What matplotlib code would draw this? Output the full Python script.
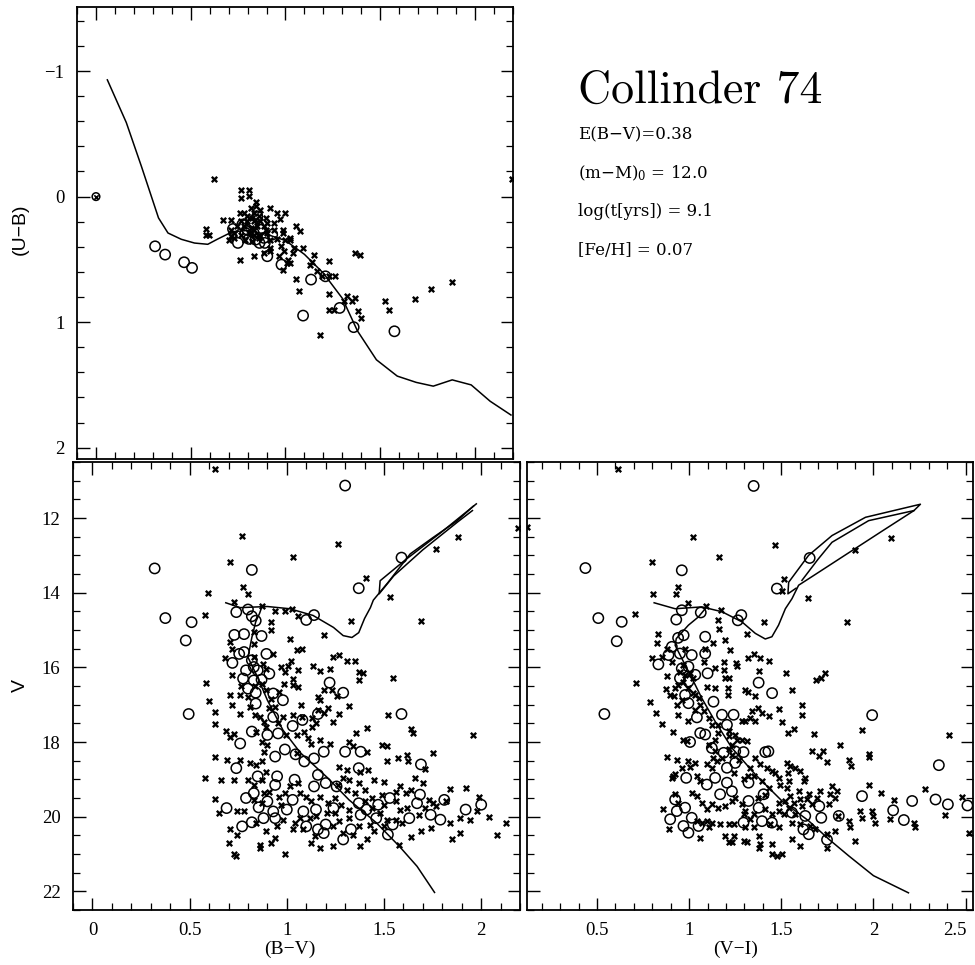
import matplotlib
matplotlib.use("Agg")
import matplotlib.pyplot as plt
from matplotlib.ticker import MultipleLocator, FixedLocator, FixedFormatter, NullFormatter
from matplotlib.transforms import ScaledTranslation
import numpy as np

plt.rcParams['font.family'] = ['Liberation Serif', 'DejaVu Serif']
plt.rcParams['mathtext.fontset'] = 'dejavuserif'

# ---------------- data: (U-B) vs (B-V) ----------------
iso_bv_ub = [0.06, 0.16, 0.24, 0.33, 0.38, 0.45, 0.52, 0.59, 0.64, 0.72, 0.80, 0.90, 1.00,
             1.10, 1.20, 1.30, 1.38, 1.48, 1.59, 1.69, 1.78, 1.88, 1.98, 2.08, 2.19]
iso_ub = [-0.93, -0.59, -0.24, 0.17, 0.29, 0.34, 0.37, 0.38, 0.34, 0.28, 0.27, 0.30, 0.35,
          0.46, 0.61, 0.81, 1.07, 1.30, 1.43, 1.48, 1.51, 1.46, 1.50, 1.63, 1.74]

circ_bv_top = [0.312, 0.365, 0.465, 0.507, 0.723, 0.749, 0.807, 0.789, 0.833, 0.868, 0.886,
               0.863, 0.891, 0.93, 0.904, 0.979, 1.093, 1.135, 1.211, 1.286, 1.36, 1.575,
               0.772, 0.851, 0.825, 0.798, 0.842]
circ_ub_top = [0.396, 0.462, 0.523, 0.568, 0.258, 0.369, 0.337, 0.29, 0.29, 0.263, 0.329,
               0.369, 0.369, 0.303, 0.475, 0.542, 0.948, 0.661, 0.635, 0.887, 1.04, 1.073,
               0.223, 0.157, 0.21, 0.263, 0.343]

cross_bv_top = [0.623, 0.763, 0.763, 0.807, 0.807, 0.842, 0.918, 0.956, 1.0, 0.97, 0.939, 0.988,
                0.988, 1.058, 1.079, 1.023, 1.0, 1.044, 1.093, 1.04, 1.012, 1.026, 1.053, 1.07,
                1.14, 1.153, 1.132, 1.228, 1.167, 1.193, 1.228, 1.26, 1.228, 1.232, 1.254, 1.307,
                1.325, 1.351, 1.368, 1.381, 1.398, 1.184, 1.365, 1.392, 1.526, 1.547, 1.684,
                1.767, 1.877, 2.196, 0.579, 0.579, 0.596, 0.672, 0.711, 0.76, 0.711, 0.702, 0.76,
                0.833, 0.886, 0.918, 0.921, 0.968, 0.974, 0.991, 0.988, 1.009, 1.026,
                0.781, 0.816, 0.842, 0.868, 0.833, 0.798, 0.825, 0.86, 0.895, 0.763, 0.798, 0.833,
                0.868, 0.904, 0.746, 0.781, 0.816, 0.851, 0.886, 0.728, 0.763, 0.833, 0.868, 0.904,
                0.789, 0.825, 0.86, 0.895, 0.939, 0.921, 0.956, 0.728, 0.711, 0.833, 0.807]
cross_ub_top = [-0.141, -0.05, 0.011, -0.056, -0.008, 0.045, 0.09, 0.13, 0.13, 0.178, 0.21, 0.263,
                0.29, 0.231, 0.276, 0.329, 0.343, 0.409, 0.409, 0.449, 0.502, 0.529, 0.656, 0.754,
                0.523, 0.462, 0.542, 0.515, 0.595, 0.635, 0.635, 0.635, 0.773, 0.9, 0.9, 0.834,
                0.789, 0.834, 0.807, 0.914, 0.967, 1.10, 0.449, 0.462, 0.829, 0.906, 0.813,
                0.733, 0.683, -0.141, 0.258, 0.303, 0.303, 0.183, 0.183, 0.13, 0.263, 0.343, 0.502,
                0.47, 0.449, 0.409, 0.436, 0.475, 0.396, 0.436, 0.582, 0.529, 0.343,
                0.13, 0.09, 0.077, 0.104, 0.13, 0.157, 0.17, 0.157, 0.17, 0.197, 0.197, 0.197,
                0.197, 0.21, 0.236, 0.236, 0.25, 0.236, 0.236, 0.29, 0.303, 0.303, 0.31, 0.29,
                0.343, 0.356, 0.329, 0.263, 0.263, 0.343, 0.337, 0.329, 0.31, 0.263, 0.29]

blend_bv_top = [0.0]
blend_ub_top = [0.0]

# ---------------- data: V vs (B-V) ----------------
ms_bv = [1.76, 1.67, 1.58, 1.46, 1.32, 1.21, 1.07, 0.98, 0.90, 0.85, 0.80, 0.82, 0.84, 0.86, 0.87]
ms_v_bv = [22.03, 21.33, 20.8, 20.16, 19.55, 18.96, 18.29, 17.68, 16.88, 16.27, 15.73, 15.2,
           14.78, 14.55, 14.40]
rgb_bv = [0.686, 0.76, 0.90, 1.015, 1.135, 1.24, 1.29, 1.335, 1.37, 1.40, 1.43, 1.445, 1.52,
          1.635, 1.75, 1.875, 1.96]
rgb_v_bv = [14.27, 14.40, 14.37, 14.43, 14.61, 14.93, 15.15, 15.2, 15.07, 14.69, 14.4, 14.2,
            13.73, 12.96, 12.53, 12.08, 11.68]
loop_bv = [1.975, 1.79, 1.61, 1.48, 1.475, 1.55, 1.70, 1.88, 1.955]
loop_v_bv = [11.62, 12.4, 13.12, 13.68, 14.03, 13.55, 12.85, 12.1, 11.8]

circ_bv = [1.30, 0.32, 0.82, 1.59, 1.37, 0.375, 0.51, 0.74, 0.80, 0.82, 0.84, 1.10, 1.14, 0.48,
           0.495, 0.73, 0.78, 0.87, 0.895, 0.755, 0.72, 0.78, 0.82, 0.79, 0.83, 0.85, 0.775,
           0.83, 0.87, 0.91, 0.80, 0.84, 0.84, 0.93, 0.98, 1.22, 1.29, 1.59, 0.93, 0.82, 0.76,
           0.90, 0.955, 1.16, 1.03, 1.08, 0.99, 1.045, 0.94, 1.30, 1.38, 1.19, 1.09, 1.14, 1.37,
           1.69, 0.74, 0.85, 0.83, 0.79, 0.95, 0.94, 1.04, 1.16, 1.20, 1.14, 1.256, 0.69, 0.77,
           0.855, 0.82, 0.88, 0.90, 0.93, 0.94, 1.03, 1.00, 1.085, 1.10, 1.15, 1.16, 1.20, 1.19,
           1.24, 1.29, 1.33, 1.37, 1.38, 1.41, 1.46, 1.47, 1.53, 1.52, 1.545, 1.63, 1.67, 1.685,
           1.74, 1.79, 1.81, 1.92, 2.00]
circ_v_bv = [11.13, 13.35, 13.39, 13.06, 13.88, 14.68, 14.79, 14.52, 14.45, 14.63, 14.75, 14.73,
             14.60, 15.28, 17.25, 15.13, 15.11, 15.16, 15.64, 15.64, 15.88, 15.59, 15.81, 16.08,
             15.99, 16.08, 16.30, 16.35, 16.33, 16.17, 16.57, 16.68, 16.97, 16.70, 16.88, 16.41,
             16.68, 17.25, 17.33, 17.72, 18.04, 17.81, 17.77, 17.25, 17.57, 17.41, 18.2, 18.33,
             18.39, 18.26, 18.26, 18.26, 18.52, 18.44, 18.70, 18.6, 18.70, 18.92, 19.37, 19.50,
             18.92, 19.15, 19.01, 18.88, 19.1, 19.19, 19.19, 19.77, 20.26, 19.75, 20.15, 20.04,
             19.59, 19.86, 20.04, 19.55, 19.81, 19.86, 20.26, 19.81, 20.34, 20.21, 20.44, 19.77,
             20.61, 20.34, 19.64, 19.95, 19.81, 20.04, 19.68, 19.50, 20.48, 20.21, 20.04, 19.64,
             19.41, 19.95, 20.08, 19.55, 19.81, 19.68]

cross_bv = [0.63, 0.77, 1.265, 1.03, 0.71, 1.77, 1.88, 2.19, 1.405, 0.775, 0.80, 0.595, 0.58,
            0.73, 0.87, 0.94, 0.99, 1.025, 1.055, 1.33, 1.53, 1.69, 1.545, 1.32, 1.64, 1.65, 1.96,
            1.75, 1.19, 1.015, 1.05, 1.08, 0.92, 0.71, 0.72, 0.83, 0.92, 0.93, 0.83, 0.68, 0.585,
            0.60, 0.63, 0.63, 0.685, 0.71, 0.73, 0.72, 0.766, 0.72, 0.97, 1.005, 1.02, 1.03, 1.06,
            1.03, 1.055, 0.99, 0.985, 0.96, 0.92, 0.94, 1.135, 1.17, 1.19, 1.16, 1.17, 1.22, 1.24,
            1.27, 1.31, 1.35, 1.37, 1.39, 1.37, 1.23, 1.26, 1.21, 1.19, 1.24, 1.075, 1.03, 1.08,
            1.13, 1.52, 1.355, 1.41, 1.32, 1.22, 1.17, 1.11, 1.125, 0.87, 0.90, 0.88, 1.05, 1.34,
            1.41, 1.49, 1.515, 1.515, 1.57, 1.62, 1.625, 1.71, 1.84, 1.66, 1.70, 1.64, 1.58, 1.56,
            1.615, 1.50, 1.45, 1.42, 1.375, 1.31, 1.27, 1.29, 1.32, 1.37, 1.265, 1.31, 1.35, 1.40,
            1.44, 1.49, 1.40, 1.44, 1.50, 1.56, 1.58, 1.62, 1.48, 1.515, 1.56, 1.59, 1.68, 1.71,
            1.73, 1.77, 1.75, 1.82, 1.84, 1.89, 1.92, 1.89, 1.94, 1.99, 1.98, 2.04, 2.08, 2.13,
            1.85, 1.74, 1.69, 1.64, 1.575, 1.41, 1.375, 1.34, 1.29, 1.24, 1.17, 1.125, 1.145,
            1.085, 1.03, 1.04, 0.99, 0.94, 0.92, 0.86, 0.86, 0.74, 0.73, 0.745, 0.71, 0.70, 0.745,
            0.78, 0.73, 0.66, 0.58, 0.63, 0.65, 0.63, 0.69, 0.76, 0.81, 0.84, 0.87, 0.895, 0.80,
            0.83, 0.87, 0.91, 0.88, 0.83, 0.87, 0.96, 0.97, 0.99, 1.015, 1.06, 1.07, 1.10, 1.125,
            1.17, 1.21, 1.25, 1.28, 1.32, 1.25, 1.205, 1.15, 1.12, 1.07, 0.98, 0.95, 0.84, 0.895,
            1.24, 1.27, 1.32, 1.37, 1.43, 1.45, 1.50, 1.05, 1.09, 1.13, 1.15, 1.16, 1.27, 0.86,
            0.88, 0.895, 0.84, 0.71, 0.83, 0.875, 0.895, 0.87, 0.895, 0.76, 0.80, 0.835, 0.81,
            0.76, 0.835, 0.91, 0.955, 0.98, 0.995]
cross_v_bv = [10.68, 12.49, 12.70, 13.04, 13.17, 12.84, 12.52, 12.28, 13.6, 13.84, 14.04, 14.0,
              14.59, 14.24, 14.35, 14.5, 14.5, 14.45, 14.62, 14.75, 14.12, 14.75, 16.28, 17.03,
              17.65, 17.77, 17.8, 18.3, 15.13, 15.25, 15.53, 15.52, 14.79, 15.32, 15.5, 15.06,
              15.01, 15.64, 15.37, 15.74, 16.41, 16.9, 17.19, 17.52, 17.71, 16.73, 17.79, 17.0,
              16.49, 16.21, 15.99, 15.97, 15.84, 16.3, 16.08, 16.48, 16.52, 16.12, 16.44, 16.66,
              16.84, 17.06, 15.97, 16.1, 16.61, 16.79, 16.88, 16.04, 15.73, 15.66, 15.84, 15.82,
              16.12, 16.14, 16.35, 16.61, 16.76, 17.1, 17.23, 17.46, 17.01, 17.28, 17.32, 17.37,
              17.28, 17.77, 17.63, 17.99, 18.04, 17.95, 17.88, 18.04, 17.99, 18.08, 18.26, 18.30,
              18.12, 18.26, 18.08, 18.12, 18.52, 18.44, 18.35, 18.52, 18.72, 19.25, 18.97, 19.1,
              19.28, 19.19, 19.34, 19.37, 19.06, 19.01, 18.75, 18.79, 18.75, 18.66, 18.97, 19.01,
              19.1, 19.15, 19.28, 19.37, 19.28, 19.5, 19.41, 19.59, 19.77, 19.68, 19.59, 19.81,
              19.77, 19.9, 20.08, 20.08, 20.17, 19.95, 19.77, 19.55, 19.72, 19.64, 19.59, 20.17,
              20.04, 19.24, 20.44, 20.08, 19.46, 19.86, 20.0, 20.48, 20.17, 20.61, 20.30, 20.39,
              20.54, 20.75, 20.61, 20.79, 20.48, 20.44, 20.79, 20.84, 20.70, 20.52, 20.34, 20.34,
              20.17, 21.0, 20.57, 20.70, 20.75, 20.84, 21.06, 21.0, 20.48, 20.34, 20.70, 19.86,
              19.86, 19.01, 19.01, 18.97, 19.53, 19.9, 18.39, 18.48, 18.48, 18.57, 18.61, 18.52,
              18.79, 19.01, 19.15, 19.01, 19.33, 19.37, 19.55, 19.64, 19.46, 19.68, 19.37, 19.19,
              19.1, 19.37, 19.46, 19.59, 19.46, 19.64, 19.50, 19.68, 19.81, 19.90, 19.9, 19.99,
              20.04, 20.04, 20.08, 20.26, 20.17, 20.39, 20.26, 20.12, 20.04, 20.26, 20.21, 20.39,
              20.26, 17.81, 17.72, 17.59, 17.5, 17.15, 17.24, 17.32, 17.46, 17.59, 17.72, 17.86,
              15.73, 15.9, 16.04, 16.44, 16.61, 16.75, 16.79, 16.5, 17.06, 17.24, 17.28, 17.1,
              17.48, 17.33, 17.81]

# ---------------- data: V vs (V-I) ----------------
ms_vi = [2.19, 2.00, 1.866, 1.757, 1.648, 1.504, 1.359, 1.232, 1.141, 1.069, 1.015, 0.96, 0.924,
         0.93, 0.996, 1.05, 1.087]
ms_v_vi = [22.04, 21.58, 21.05, 20.6, 20.11, 19.58, 18.87, 18.16, 17.45, 16.83, 16.29, 15.76,
           15.41, 15.23, 14.87, 14.65, 14.43]
rgb_vi = [0.81, 0.924, 1.069, 1.178, 1.286, 1.359, 1.413, 1.449, 1.485, 1.522, 1.558, 1.594,
          1.685, 1.866, 2.047, 2.22]
rgb_v_vi = [14.27, 14.43, 14.38, 14.51, 14.78, 15.09, 15.24, 15.18, 14.87, 14.43, 14.16, 13.8,
            13.51, 12.93, 12.35, 11.8]
loop_vi = [1.612, 1.70, 1.775, 1.974, 2.22, 2.255, 1.957, 1.775, 1.648, 1.54, 1.536, 1.58]
loop_v_vi = [13.67, 13.1, 12.65, 12.07, 11.8, 11.63, 11.98, 12.47, 13.0, 13.72, 14.03, 13.88]

circ_vi = [1.35, 0.437, 0.96, 1.654, 1.476, 0.507, 0.634, 0.607, 0.54, 0.96, 0.93, 1.063, 1.264,
           1.283, 1.087, 0.97, 0.94, 0.906, 0.833, 0.888, 0.95, 1.014, 1.087, 0.96, 0.996, 0.95,
           0.996, 1.033, 1.10, 0.978, 0.996, 1.132, 1.377, 1.45, 1.042, 1.178, 1.241, 1.205,
           1.06, 1.087, 1.005, 1.123, 1.187, 1.25, 1.295, 1.43, 1.205, 1.25, 1.141, 1.205, 0.984,
           1.096, 1.168, 1.232, 1.322, 1.404, 1.322, 1.377, 0.924, 0.978, 0.933, 0.897, 0.969,
           0.996, 1.051, 1.014, 1.295, 1.395, 1.449, 1.558, 1.63, 1.649, 1.62, 1.706, 1.717,
           1.748, 1.812, 1.938, 1.993, 2.107, 2.165, 2.21, 2.337, 2.355, 2.404, 2.51, 1.413]
circ_v_vi = [11.14, 13.34, 13.40, 13.07, 13.89, 14.68, 14.78, 15.30, 17.25, 14.47, 14.72, 14.53,
             14.74, 14.6, 15.18, 15.14, 15.21, 15.45, 15.92, 15.67, 15.63, 15.67, 15.63, 16.03,
             15.98, 16.29, 16.38, 16.2, 16.16, 16.74, 16.96, 16.92, 16.41, 16.69, 17.34, 17.27,
             17.27, 17.54, 17.76, 17.8, 18.0, 18.16, 18.29, 18.25, 18.27, 18.25, 18.69, 18.56,
             18.96, 19.09, 18.96, 19.14, 19.4, 19.32, 19.09, 19.4, 19.58, 19.76, 19.54, 19.76,
             19.85, 20.07, 20.25, 20.43, 20.25, 20.03, 20.16, 20.12, 20.16, 19.89, 19.98, 20.47,
             20.34, 19.72, 20.03, 20.62, 19.98, 19.45, 17.28, 19.83, 20.09, 19.58, 19.54, 18.62,
             19.67, 19.7, 18.27]

cross_vi = [0.612, 0.118, 1.02, 1.467, 1.163, 2.098, 1.90, 0.797, 0.937, 0.928, 0.803, 0.706,
            0.993, 1.092, 1.174, 1.156, 1.16, 1.404, 1.513, 1.504, 1.645, 1.857, 1.313, 1.196,
            1.223, 1.132, 0.833, 0.824, 0.80, 0.879, 0.71, 0.788, 0.82, 0.851, 0.915, 0.879,
            0.933, 0.915, 0.86, 0.888, 0.942, 0.933, 0.92, 0.873, 0.897, 0.924, 0.996, 0.987,
            0.969, 1.033, 1.06, 1.096, 1.141, 1.138, 1.187, 1.187, 1.214, 1.192, 1.21, 1.21,
            1.255, 1.259, 1.322, 1.35, 1.386, 1.435, 1.377, 1.304, 1.322, 1.359, 1.373, 1.341,
            1.395, 1.431, 1.331, 1.304, 1.286, 1.359, 1.49, 1.504, 1.534, 1.567, 1.558, 1.527,
            1.612, 1.612, 1.676, 1.69, 1.717, 1.735, 1.667, 1.703, 1.726, 1.748, 1.817, 1.87,
            1.88, 1.938, 1.978, 1.978, 2.41, 2.042, 2.11, 1.978, 1.929, 1.99, 2.0, 2.01, 1.938,
            2.089, 2.22, 2.228, 2.279, 2.391, 2.478, 2.518, 1.902, 1.866, 1.875, 1.793, 1.808,
            1.757, 1.775, 1.80, 1.793, 1.766, 1.712, 1.694, 1.667, 1.649, 1.621, 1.63, 1.603,
            1.576, 1.549, 1.531, 1.536, 1.54, 1.495, 1.486, 1.467, 1.449, 1.42, 1.531, 1.549,
            1.594, 1.603, 1.567, 1.522, 1.486, 1.486, 1.513, 1.449, 1.413, 1.35, 1.304, 1.286,
            1.25, 1.232, 1.196, 1.159, 1.123, 1.096, 1.069, 1.042, 1.014, 0.924, 0.942, 0.906,
            0.924, 0.96, 0.996, 1.033, 1.042, 1.06, 1.096, 1.123, 1.15, 1.132, 1.178, 1.232,
            1.25, 1.259, 1.286, 1.313, 1.359, 1.386, 1.331, 1.322, 1.295, 1.241, 1.042, 1.069,
            1.096, 1.105, 1.06, 1.123, 1.168, 1.214, 1.241, 1.196, 1.214, 1.232, 1.241, 1.295,
            1.304, 1.295, 1.313, 1.331, 1.35, 1.377, 1.386, 1.377, 1.44, 1.449, 1.449, 1.476,
            1.504, 1.49, 1.558, 1.603, 1.603, 1.558, 1.658, 1.685, 1.748, 1.748, 1.54, 1.576,
            1.612, 1.64, 1.373, 1.409, 1.435, 1.395, 1.35, 1.268, 1.232, 1.214, 1.214, 1.159,
            1.141, 1.105, 1.005, 0.969, 0.951, 0.978, 1.005, 1.023, 0.969, 0.942, 0.996, 1.023,
            1.051, 1.078, 1.033, 1.105, 1.123, 1.159, 1.214, 1.141, 0.96, 0.978, 0.879, 0.851,
            0.906, 1.087, 1.078]
cross_v_vi = [10.68, 12.23, 12.5, 12.72, 13.05, 12.53, 12.85, 13.18, 13.85, 14.04, 14.03, 14.58,
              14.27, 14.36, 14.46, 14.74, 14.96, 14.78, 13.63, 13.96, 14.14, 14.78, 15.11, 15.27,
              15.54, 15.36, 15.11, 15.34, 15.74, 16.23, 16.43, 16.92, 17.21, 17.52, 17.74, 18.40,
              18.49, 18.92, 19.79, 20.34, 17.27, 17.0, 16.76, 16.58, 16.74, 16.54, 17.45, 17.96,
              17.94, 16.74, 17.0, 16.52, 16.54, 16.03, 15.85, 16.07, 16.29, 16.28, 16.54, 16.74,
              15.89, 15.96, 15.76, 15.65, 15.76, 15.82, 16.1, 16.6, 16.65, 16.78, 17.09, 17.18,
              17.23, 17.29, 17.36, 17.45, 17.43, 17.45, 17.11, 17.47, 17.76, 17.65, 16.6, 16.16,
              17.0, 17.27, 17.78, 16.34, 16.29, 16.16, 18.25, 18.38, 18.25, 18.53, 18.07, 18.47,
              18.65, 17.67, 18.32, 18.41, 17.8, 19.36, 19.56, 19.14, 19.85, 19.85, 19.98, 20.16,
              20.04, 20.05, 20.16, 20.29, 19.27, 19.96, 19.47, 20.43, 20.65, 20.12, 20.29, 20.38,
              19.98, 19.67, 19.18, 19.32, 19.5, 19.4, 19.32, 19.5, 19.67, 19.4, 19.05, 18.96,
              18.78, 18.69, 18.65, 18.56, 18.83, 19.05, 19.14, 18.96, 18.83, 18.78, 18.69, 19.23,
              19.45, 19.32, 19.54, 19.63, 19.58, 19.63, 19.85, 19.94, 19.94, 19.8, 19.94, 19.85,
              19.67, 19.49, 19.58, 19.71, 19.76, 19.67, 19.8, 19.63, 19.45, 19.36, 19.4, 19.63,
              18.96, 18.87, 18.69, 18.52, 18.56, 18.92, 19.05, 18.6, 18.69, 18.52, 18.43, 18.43,
              18.34, 17.8, 17.94, 17.94, 17.98, 18.43, 18.6, 18.69, 18.92, 19.0, 18.83, 20.12,
              20.16, 20.12, 20.29, 20.56, 20.16, 20.2, 20.2, 20.2, 20.52, 20.69, 20.69, 20.52,
              19.94, 20.29, 20.65, 20.69, 20.07, 20.29, 20.52, 20.74, 20.83, 20.2, 20.74, 21.0,
              21.05, 21.0, 20.29, 20.16, 20.2, 20.78, 20.6, 20.25, 20.34, 20.47, 20.83, 19.76,
              19.94, 19.72, 19.54, 19.49, 19.41, 19.23, 19.05, 18.92, 18.47, 18.07, 17.71, 17.84,
              17.76, 17.94, 18.07, 18.68, 15.95, 16.12, 16.2, 16.16, 16.29, 16.38, 16.47, 16.56,
              16.69, 16.83, 17.18, 17.14, 17.36, 17.54, 17.54, 18.2, 18.25, 16.87, 15.5, 15.5,
              15.72, 15.86, 15.5, 15.86]

title_text = "Collinder 74"
param_lines = ["E(B\u2212V)=0.38", "(m\u2212M)$_0$ = 12.0", "log(t[yrs]) = 9.1", "[Fe/H] = 0.07"]

# ---------------- figure ----------------
fig = plt.figure(figsize=(9.75, 9.65), dpi=100)
ax_ub = fig.add_axes([0.079, 0.5244, 0.447, 0.4683])
ax_bv = fig.add_axes([0.0749, 0.057, 0.4585, 0.4642])
ax_vi = fig.add_axes([0.5405, 0.057, 0.4574, 0.4642])

circ_kw = dict(marker='o', s=55, facecolors='none', edgecolors='black', linewidths=1.1, zorder=3)
cross_kw = dict(marker='x', s=15, color='black', linewidths=1.7, zorder=3)
line_kw = dict(color='black', linewidth=1.1, zorder=2)

# top: (U-B) vs (B-V)
ax_ub.plot(iso_bv_ub, iso_ub, **line_kw)
ax_ub.scatter(cross_bv_top, cross_ub_top, **cross_kw)
ax_ub.scatter(circ_bv_top, circ_ub_top, **circ_kw)
ax_ub.scatter(blend_bv_top, blend_ub_top, marker='o', s=30, facecolors='none',
              edgecolors='black', linewidths=1.1, zorder=3)
ax_ub.scatter(blend_bv_top, blend_ub_top, marker='x', s=10, color='black', linewidths=1.2, zorder=4)
ax_ub.set_xlim(-0.1, 2.2)
ax_ub.set_ylim(2.09, -1.51)

# bottom-left: V vs (B-V)
ax_bv.plot(ms_bv, ms_v_bv, **line_kw)
ax_bv.plot(rgb_bv, rgb_v_bv, **line_kw)
ax_bv.plot(loop_bv, loop_v_bv, **line_kw)
ax_bv.scatter(cross_bv, cross_v_bv, **cross_kw)
ax_bv.scatter(circ_bv, circ_v_bv, **circ_kw)
ax_bv.set_xlim(-0.1, 2.2)
ax_bv.set_ylim(22.5, 10.5)

# bottom-right: V vs (V-I)
ax_vi.plot(ms_vi, ms_v_vi, **line_kw)
ax_vi.plot(rgb_vi, rgb_v_vi, **line_kw)
ax_vi.plot(loop_vi, loop_v_vi, **line_kw)
ax_vi.scatter(cross_vi, cross_v_vi, **cross_kw)
ax_vi.scatter(circ_vi, circ_v_vi, **circ_kw)
ax_vi.set_xlim(0.12, 2.54)
ax_vi.set_ylim(22.5, 10.5)

for ax in (ax_ub, ax_bv, ax_vi):
    ax.tick_params(which='both', direction='in', top=True, right=True, labelsize=13.5)
    ax.tick_params(which='major', length=9, width=1.0, pad=9)
    ax.tick_params(which='minor', length=5, width=0.9)
    for sp in ax.spines.values():
        sp.set_linewidth(1.3)
    ax.xaxis.set_minor_locator(MultipleLocator(0.1))

ax_ub.yaxis.set_major_locator(FixedLocator([-2, -1, 0, 1, 2]))
ax_ub.yaxis.set_major_formatter(FixedFormatter(['\u22122', '\u22121', '0', '1', '2']))
ax_ub.yaxis.set_minor_locator(MultipleLocator(0.2))
ax_ub.xaxis.set_major_locator(MultipleLocator(0.5))
ax_ub.xaxis.set_major_formatter(NullFormatter())

for ax in (ax_bv, ax_vi):
    ax.yaxis.set_major_locator(MultipleLocator(2))
    ax.yaxis.set_minor_locator(MultipleLocator(0.5))
ax_vi.yaxis.set_major_formatter(NullFormatter())

ax_bv.xaxis.set_major_locator(FixedLocator([0, 0.5, 1, 1.5, 2]))
ax_bv.xaxis.set_major_formatter(FixedFormatter(['0', '0.5', '1', '1.5', '2']))
ax_vi.xaxis.set_major_locator(FixedLocator([0.5, 1, 1.5, 2, 2.5]))
ax_vi.xaxis.set_major_formatter(FixedFormatter(['0.5', '1', '1.5', '2', '2.5']))

# keep the last (V-I) tick label inside the figure edge
fig.canvas.draw()
last_lbl = ax_vi.xaxis.get_major_ticks()[-1].label1
last_lbl.set_transform(last_lbl.get_transform() + ScaledTranslation(-8 / 72, 0, fig.dpi_scale_trans))

# axis labels
fig.text(0.021, 0.762, "(U\u2212B)", rotation=90, ha='center', va='center', fontsize=14,
         family=['Liberation Sans', 'DejaVu Sans'])
fig.text(0.021, 0.29, "V", rotation=90, ha='center', va='center', fontsize=14,
         family=['Liberation Sans', 'DejaVu Sans'])
fig.text(0.297, 0.016, "(B\u2212V)", ha='center', va='center', fontsize=14)
fig.text(0.754, 0.016, "(V\u2212I)", ha='center', va='center', fontsize=14)

# cluster annotation
fig.text(0.593, 0.893, title_text, ha='left', va='baseline', fontsize=33, family='cmr10')
for i, line in enumerate(param_lines):
    fig.text(0.593, 0.860 - i * 0.0397, line, ha='left', va='center', fontsize=12,
             family=['DejaVu Serif'])

fig.savefig("out.png", dpi=100)
